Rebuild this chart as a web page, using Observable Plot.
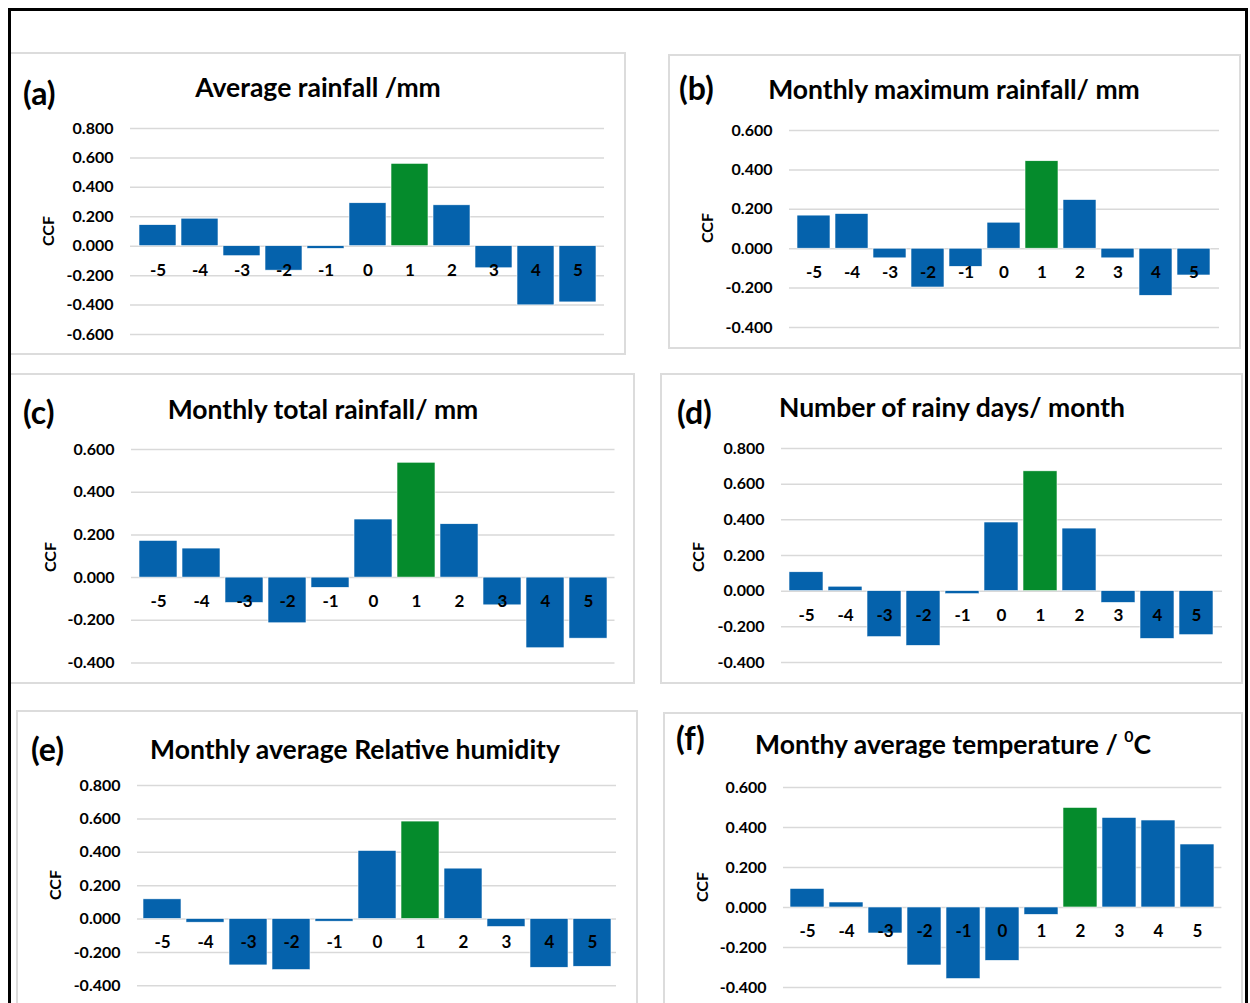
<!DOCTYPE html>
<html>
<head>
<meta charset="utf-8">
<script src="https://cdn.jsdelivr.net/npm/d3@7"></script>
<script src="https://cdn.jsdelivr.net/npm/@observablehq/plot@0.6"></script>
<style>
  html, body { margin: 0; padding: 0; background: #fff; }
  #page { position: relative; width: 1250px; height: 1003px; overflow: hidden; background: #fff; font-family: Lato, "Open Sans", sans-serif; }
  .box { position: absolute; box-sizing: border-box; border: 2px solid #dcdcdc; }
  .title { position: absolute; width: 700px; text-align: center; font-weight: 700; font-size: 26.5px; line-height: 30px; color: #000; white-space: nowrap; }
  .tag { position: absolute; font-weight: 700; font-size: 32px; line-height: 34px; color: #000; white-space: nowrap; }
  .ccf { position: absolute; font-weight: 700; font-size: 16px; line-height: 18px; color: #000; transform: translate(-50%, -50%) rotate(-90deg); white-space: nowrap; }
  .chart { position: absolute; }
  #outer { position: absolute; left: 8px; top: 8px; width: 1240px; height: 1100px; box-sizing: border-box; border: 3px solid #000; pointer-events: none; }
  sup { font-size: 0.6em; vertical-align: 0.75em; line-height: 0; }
</style>
</head>
<body>
<div id="page"></div>
<script>
// ---- data ----
const lags = [-5, -4, -3, -2, -1, 0, 1, 2, 3, 4, 5];
const ccfA = [0.143, 0.187, -0.068, -0.166, -0.018, 0.292, 0.560, 0.278, -0.150, -0.402, -0.382];
const ccfB = [0.168, 0.176, -0.049, -0.197, -0.092, 0.132, 0.444, 0.247, -0.049, -0.239, -0.136];
const ccfC = [0.172, 0.136, -0.119, -0.214, -0.048, 0.272, 0.538, 0.250, -0.130, -0.331, -0.286];
const ccfD = [0.106, 0.025, -0.258, -0.307, -0.017, 0.385, 0.672, 0.351, -0.066, -0.268, -0.247];
const ccfE = [0.118, -0.022, -0.278, -0.306, -0.016, 0.408, 0.584, 0.302, -0.048, -0.292, -0.286];
const ccfF = [0.093, 0.025, -0.130, -0.290, -0.358, -0.267, -0.037, 0.498, 0.448, 0.435, 0.315];
const series = [ccfA, ccfB, ccfC, ccfD, ccfE, ccfF];
const peakLags = [1, 1, 1, 1, 1, 2];
const tags = ["(a)", "(b)", "(c)", "(d)", "(e)", "(f)"];
const titles = [
  "Average rainfall /mm",
  "Monthly maximum rainfall/ mm",
  "Monthly total rainfall/ mm",
  "Number of rainy days/ month",
  "Monthly average Relative humidity",
  "Monthy average temperature / <sup>0</sup>C"
];
const yLabel = "CCF";
const yDomains = [[-0.6, 0.8], [-0.4, 0.6], [-0.4, 0.6], [-0.4, 0.8], [-0.4, 0.8], [-0.4, 0.6]];

// ---- layout (page pixels) ----
const layout = [
  {box: [9, 52, 626, 355],    plot: [130, 604, 128, 334],     title: [318, 87], tag: [23, 93],  ccf: [48, 231]},
  {box: [668, 54, 1241, 349], plot: [788.5, 1218.5, 130, 327], title: [954, 89], tag: [679, 88], ccf: [707, 228]},
  {box: [9, 373, 635, 684],   plot: [130.5, 614, 449, 662.5], title: [323, 409], tag: [23, 412], ccf: [49.5, 557]},
  {box: [660, 373, 1243, 684], plot: [781, 1222, 448.3, 662.3], title: [952, 407], tag: [677, 412], ccf: [698, 557]},
  {box: [16, 710, 638, 1020], plot: [137, 616, 785, 985.3],   title: [355, 749], tag: [31, 749], ccf: [55, 885]},
  {box: [663, 712, 1243, 1020], plot: [782.6, 1221, 786.7, 986.7], title: [953, 744], tag: [676, 738], ccf: [702, 887]}
];

const blue = "#0562ac";
const green = "#058b2c";

const page = document.getElementById("page");

function addDiv(cls, html, style) {
  const d = document.createElement("div");
  d.className = cls;
  d.innerHTML = html;
  Object.assign(d.style, style);
  page.appendChild(d);
  return d;
}

series.forEach((values, i) => {
  const L = layout[i];
  const [bl, bt, br, bb] = L.box;
  addDiv("box", "", {left: bl + "px", top: bt + "px", width: (br - bl) + "px", height: (bb - bt) + "px"});

  const [xL, xR, yT, yB] = L.plot;
  const mL = 90, mR = 6, mT = 8, mB = 8;
  const w = mL + (xR - xL) + mR;
  const h = mT + (yB - yT) + mB;
  const dom = yDomains[i];
  const ticks = d3.range(Math.round(dom[0] * 10), Math.round(dom[1] * 10) + 1, 2).map(d => d / 10);
  const data = lags.map((lag, j) => ({lag, v: values[j], peak: lag === peakLags[i]}));

  const svg = Plot.plot({
    width: w, height: h,
    marginLeft: mL, marginRight: mR, marginTop: mT, marginBottom: mB,
    style: {fontFamily: "Lato, 'Open Sans', sans-serif", fontWeight: 700, fontSize: "16px", color: "#000", background: "transparent", overflow: "visible"},
    x: {type: "band", domain: lags, padding: 0.12, axis: null},
    y: {domain: dom, ticks, tickFormat: d => d.toFixed(3), tickSize: 0, tickPadding: 17, label: null},
    marks: [
      Plot.gridY(ticks, {stroke: "#d9d9d9", strokeOpacity: 1, strokeWidth: 1.5}),
      Plot.barY(data, {x: "lag", y: "v", fill: d => d.peak ? green : blue, stroke: "#ffffff", strokeWidth: 0.6}),
      Plot.text(data, {x: "lag", y: () => 0, dy: 24, text: d => String(d.lag), fontWeight: 700, fontSize: 17, fill: "#000"})
    ]
  });
  const holder = document.createElement("div");
  holder.className = "chart";
  holder.style.left = (xL - mL) + "px";
  holder.style.top = (yT - mT) + "px";
  holder.appendChild(svg);
  page.appendChild(holder);

  addDiv("title", titles[i], {left: (L.title[0] - 350) + "px", top: (L.title[1] - 15) + "px"});
  addDiv("tag", tags[i], {left: L.tag[0] + "px", top: (L.tag[1] - 17) + "px"});
  addDiv("ccf", yLabel, {left: L.ccf[0] + "px", top: L.ccf[1] + "px"});
});

const outer = document.createElement("div");
outer.id = "outer";
page.appendChild(outer);
</script>
</body>
</html>
